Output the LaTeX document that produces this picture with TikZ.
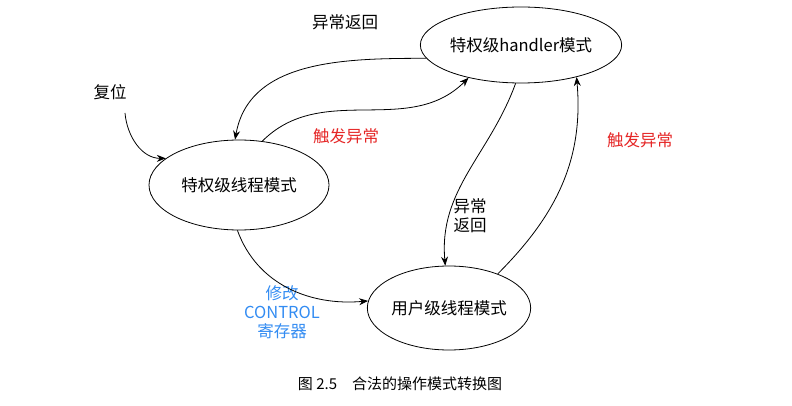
\documentclass[tikz,border=0pt]{standalone}
\usepackage{fontspec}
\setmainfont{Noto Sans CJK SC}
\usetikzlibrary{arrows.meta,positioning,shapes.geometric}
\definecolor{trigred}{rgb}{0.9,0.15,0.15}
\definecolor{ctrlblue}{rgb}{0.2,0.55,0.95}
\tikzset{
  mode/.style={ellipse,draw,line width=0.8pt,inner sep=0pt},
  trans/.style={-{Stealth[length=9pt,width=7pt]},line width=0.8pt},
  lbl/.style={font=\fontsize{16.5}{19}\selectfont,align=center}
}
\begin{document}
\begin{tikzpicture}[x=1pt,y=-1pt,font=\fontsize{16.5}{19}\selectfont]
\useasboundingbox (0,0) rectangle (792,406);
% modes
\node[mode,minimum width=184pt,minimum height=76pt] (handler) at (521,45) {特权级handler模式};
\node[mode,minimum width=180pt,minimum height=90pt] (privthr) at (239,185) {特权级线程模式};
\node[mode,minimum width=160pt,minimum height=84pt] (userthr) at (449,308) {用户级线程模式};
% labels
\node[lbl] (reset) at (110,92) {复位};
\node[lbl] (ret1) at (345,22) {异常返回};
\node[lbl,text=trigred] (trig1) at (346,136) {触发异常};
\node[lbl] (ret2) at (470,216) {异常\\返回};
\node[lbl,text=trigred] (trig2) at (640,140) {触发异常};
\node[lbl,text=ctrlblue] (ctrl) at (282,312) {修改\\CONTROL\\寄存器};
\coordinate (rst) at (125,113);
% transitions
\draw[trans] (rst) to[out=-85,in=180] (privthr.160);
\draw[trans] (handler.188) to[out=180,in=80] (privthr.95);
\draw[trans] (privthr.62) to[out=45,in=225] (handler.212);
\draw[trans] (handler.262) to[out=-110,in=95] (userthr.95);
\draw[trans] (userthr.35) to[out=45,in=-85] (handler.330);
\draw[trans] (privthr.268) to[out=-70,in=185] (userthr.175);
% caption
\node[font=\fontsize{15}{17}\selectfont] (cap) at (400,384) {图 2.5\quad 合法的操作模式转换图};
\end{tikzpicture}
\end{document}
